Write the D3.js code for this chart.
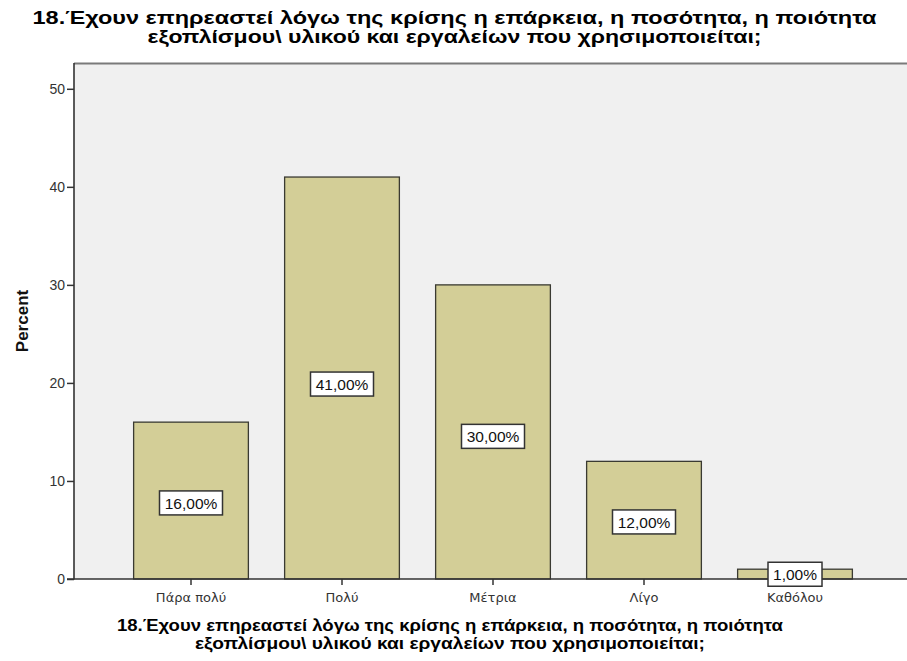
<!DOCTYPE html>
<html>
<head>
<meta charset="utf-8">
<script src="https://cdn.jsdelivr.net/npm/d3@7"></script>
<style>
  html, body { margin: 0; padding: 0; background: #ffffff; }
  svg { display: block; }
</style>
</head>
<body>
<svg id="chart" width="907" height="661"></svg>
<script>
// Response categories and their percentages
const categories = ["Πάρα πολύ", "Πολύ", "Μέτρια", "Λίγο", "Καθόλου"];
const percents = [16, 41, 30, 12, 1];
const valueLabels = ["16,00%", "41,00%", "30,00%", "12,00%", "1,00%"];
const yTicks = [0, 10, 20, 30, 40, 50];
const titleLines = [
  "18.Έχουν επηρεαστεί λόγω της κρίσης η επάρκεια, η ποσότητα, η ποιότητα",
  "εξοπλίσμου\\ υλικού και εργαλείων που χρησιμοποιείται;"
];
const yAxisTitle = "Percent";

const svg = d3.select("#chart");
const W = 907, H = 661;

const plot = { left: 74, top: 63, right: 920, bottom: 579 };

const x = d3.scaleBand()
  .domain(categories)
  .range([40, 946])
  .paddingInner(0.24)
  .paddingOuter(0.62);

const y = d3.scaleLinear()
  .domain([0, 50])
  .range([plot.bottom, 88.8]);

// Plot background and frame
svg.append("rect")
  .attr("x", plot.left).attr("y", plot.top)
  .attr("width", plot.right - plot.left).attr("height", plot.bottom - plot.top)
  .attr("fill", "#f0f0f0");
svg.append("line")
  .attr("x1", plot.left).attr("x2", plot.right)
  .attr("y1", plot.top + 0.5).attr("y2", plot.top + 0.5)
  .attr("stroke", "#7a7a7a").attr("stroke-width", 2);

// Bars
const data = categories.map((c, i) => ({ c, v: percents[i], label: valueLabels[i] }));
svg.append("g").selectAll("rect")
  .data(data)
  .join("rect")
  .attr("x", d => x(d.c))
  .attr("y", d => y(d.v))
  .attr("width", x.bandwidth())
  .attr("height", d => y(0) - y(d.v))
  .attr("fill", "#d3ce97")
  .attr("stroke", "#3a3a32")
  .attr("stroke-width", 1.3);

// Y axis
const yAxis = svg.append("g")
  .attr("transform", `translate(${plot.left},0)`)
  .call(d3.axisLeft(y).tickValues(yTicks).tickSize(7).tickPadding(2).tickFormat(d3.format("d")));
yAxis.select(".domain").remove();
yAxis.selectAll(".tick line").attr("stroke", "#333").attr("stroke-width", 1.5);
yAxis.selectAll(".tick text")
  .attr("fill", "#333")
  .style("font-family", "'Liberation Sans', Arial, sans-serif")
  .style("font-size", "14px");
svg.append("line")
  .attr("x1", plot.left).attr("x2", plot.left)
  .attr("y1", plot.top).attr("y2", plot.bottom + 0.5)
  .attr("stroke", "#333").attr("stroke-width", 1.6);

// X axis
const xAxis = svg.append("g")
  .attr("transform", `translate(0,${plot.bottom})`)
  .call(d3.axisBottom(x).tickSize(6).tickPadding(8));
xAxis.select(".domain").remove();
xAxis.selectAll(".tick line").attr("stroke", "#333").attr("stroke-width", 1.5);
xAxis.selectAll(".tick text")
  .attr("fill", "#333")
  .style("font-family", "'DejaVu Sans', Verdana, sans-serif")
  .style("font-size", "13px");
svg.append("line")
  .attr("x1", plot.left - 7).attr("x2", plot.right)
  .attr("y1", plot.bottom).attr("y2", plot.bottom)
  .attr("stroke", "#333").attr("stroke-width", 1.6);

// Value labels in boxes
const lbl = svg.append("g").selectAll("g")
  .data(data)
  .join("g")
  .attr("transform", d => `translate(${x(d.c) + x.bandwidth() / 2},${y(d.v * 0.485)})`);
lbl.append("rect")
  .attr("x", d => d.label.length > 5 ? -31.5 : -27)
  .attr("y", -12)
  .attr("width", d => d.label.length > 5 ? 63 : 54)
  .attr("height", 24)
  .attr("fill", "#ffffff")
  .attr("stroke", "#333")
  .attr("stroke-width", 1.5);
lbl.append("text")
  .attr("text-anchor", "middle")
  .attr("dy", "0.36em")
  .attr("fill", "#111")
  .style("font-family", "'Liberation Sans', Arial, sans-serif")
  .style("font-size", "15.5px")
  .text(d => d.label);

// Y axis title
svg.append("text")
  .attr("transform", "translate(28,321) rotate(-90)")
  .attr("text-anchor", "middle")
  .attr("fill", "#111")
  .style("font-family", "'Liberation Sans', Arial, sans-serif")
  .style("font-size", "17px")
  .style("font-weight", "bold")
  .text(yAxisTitle);

// Chart title (condensed)
const tWidths = [844, 614];
svg.append("g").selectAll("text")
  .data(titleLines)
  .join("text")
  .attr("x", W / 2 + 1)
  .attr("y", (d, i) => 24 + i * 19)
  .attr("text-anchor", "middle")
  .attr("textLength", (d, i) => tWidths[i])
  .attr("lengthAdjust", "spacingAndGlyphs")
  .attr("fill", "#000")
  .style("font-family", "'Liberation Sans Narrow', 'Liberation Sans', Arial, sans-serif")
  .style("font-size", "19px")
  .style("font-weight", "bold")
  .text(d => d);

// X axis title
const xtWidths = [666, 510];
svg.append("g").selectAll("text")
  .data(titleLines)
  .join("text")
  .attr("x", 450)
  .attr("y", (d, i) => 631 + i * 18)
  .attr("text-anchor", "middle")
  .attr("textLength", (d, i) => xtWidths[i])
  .attr("lengthAdjust", "spacingAndGlyphs")
  .attr("fill", "#000")
  .style("font-family", "'Liberation Sans', Arial, sans-serif")
  .style("font-size", "16.5px")
  .style("font-weight", "bold")
  .text(d => d);
</script>
</body>
</html>
